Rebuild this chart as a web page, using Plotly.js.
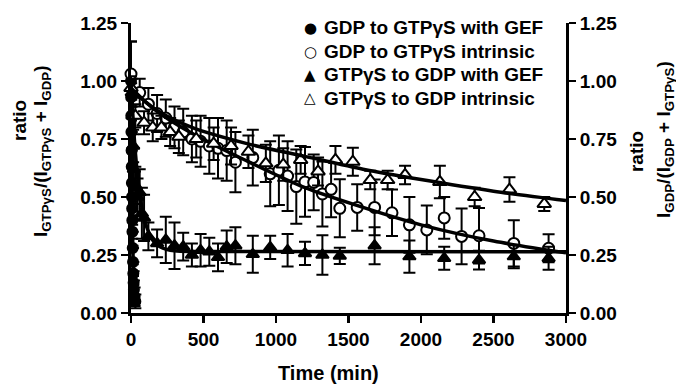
<!DOCTYPE html>
<html>
<head>
<meta charset="utf-8">
<script src="https://cdn.plot.ly/plotly-3.0.1.min.js"></script>
<style>html,body{margin:0;padding:0;background:#fff;}#chart{width:676px;height:385px;}</style>
</head>
<body>
<div id="chart"></div>
<script>
// Filled circles: GDP to GTPγS with GEF
const gefGtpT   = [0, 1, 2, 3, 4, 5, 6, 7, 8, 9, 10, 12, 14, 16, 18, 20, 25, 30];
const gefGtpV   = [1.0, 0.93, 0.85, 0.78, 0.70, 0.63, 0.56, 0.50, 0.45, 0.40, 0.35, 0.28, 0.22, 0.17, 0.13, 0.10, 0.07, 0.05];
const gefGtpErr = [0.17, 0.06, 0.07, 0.06, 0.08, 0.07, 0.08, 0.06, 0.07, 0.08, 0.06, 0.07, 0.06, 0.05, 0.05, 0.04, 0.04, 0.03];

// Open circles: GDP to GTPγS intrinsic
const intGtpT   = [0, 60, 120, 180, 240, 300, 360, 420, 480, 540, 600, 660, 720, 840, 960, 1020, 1080, 1140, 1200, 1260, 1320, 1380, 1440, 1560, 1680, 1800, 1920, 2040, 2160, 2280, 2400, 2640, 2880];
const intGtpV   = [1.03, 0.95, 0.90, 0.86, 0.84, 0.80, 0.78, 0.75, 0.74, 0.72, 0.71, 0.70, 0.65, 0.67, 0.60, 0.615, 0.59, 0.545, 0.565, 0.563, 0.513, 0.533, 0.451, 0.455, 0.455, 0.432, 0.38, 0.358, 0.41, 0.33, 0.333, 0.30, 0.279];
const intGtpErr = [0.14, 0.06, 0.07, 0.08, 0.08, 0.09, 0.10, 0.10, 0.11, 0.12, 0.13, 0.13, 0.13, 0.12, 0.14, 0.15, 0.15, 0.16, 0.15, 0.12, 0.14, 0.12, 0.125, 0.10, 0.12, 0.10, 0.12, 0.105, 0.09, 0.12, 0.12, 0.10, 0.06];

// Filled triangles: GTPγS to GDP with GEF
const gefGdpT   = [5, 10, 15, 20, 30, 45, 60, 75, 90, 120, 180, 240, 300, 360, 420, 480, 540, 600, 660, 720, 840, 960, 1080, 1200, 1320, 1440, 1680, 1920, 2160, 2400, 2640, 2880];
const gefGdpV   = [0.95, 0.85, 0.72, 0.62, 0.55, 0.50, 0.52, 0.43, 0.41, 0.33, 0.30, 0.315, 0.29, 0.286, 0.25, 0.27, 0.264, 0.24, 0.286, 0.29, 0.253, 0.283, 0.27, 0.257, 0.25, 0.246, 0.29, 0.243, 0.236, 0.228, 0.243, 0.236];
const gefGdpErr = [0.06, 0.08, 0.07, 0.09, 0.08, 0.08, 0.10, 0.11, 0.10, 0.06, 0.06, 0.10, 0.10, 0.06, 0.05, 0.07, 0.06, 0.06, 0.07, 0.08, 0.08, 0.05, 0.07, 0.05, 0.085, 0.035, 0.08, 0.07, 0.05, 0.04, 0.05, 0.05];

// Open triangles: GTPγS to GDP intrinsic
const intGdpT   = [0, 30, 90, 150, 210, 270, 330, 450, 570, 690, 810, 930, 1050, 1170, 1290, 1410, 1530, 1650, 1770, 1890, 2130, 2370, 2610, 2850];
const intGdpV   = [0.97, 0.85, 0.82, 0.80, 0.80, 0.78, 0.76, 0.75, 0.73, 0.72, 0.695, 0.645, 0.64, 0.66, 0.61, 0.66, 0.652, 0.573, 0.573, 0.595, 0.565, 0.50, 0.532, 0.47];
const intGdpErr = [0.05, 0.05, 0.05, 0.06, 0.05, 0.06, 0.07, 0.08, 0.07, 0.08, 0.07, 0.08, 0.07, 0.06, 0.06, 0.06, 0.06, 0.04, 0.04, 0.04, 0.07, 0.04, 0.053, 0.03];

// Fitted curves
const fitGefGtpT = [0, 2, 4, 6, 8, 10, 14, 20, 30, 40];
const fitGefGtpV = [1.0, 0.85, 0.70, 0.57, 0.46, 0.37, 0.25, 0.14, 0.06, 0.03];
const fitIntGtpT = [0, 100, 200, 420, 800, 1200, 1600, 2000, 2500, 3000];
const fitIntGtpV = [0.97, 0.91, 0.86, 0.775, 0.655, 0.54, 0.455, 0.38, 0.31, 0.26];
const fitGefGdpT = [0, 25, 50, 75, 100, 150, 200, 250, 300, 400, 3000];
const fitGefGdpV = [1.0, 0.734, 0.564, 0.455, 0.386, 0.314, 0.285, 0.273, 0.268, 0.265, 0.264];
const fitIntGdpT = [0, 100, 200, 420, 800, 1200, 1600, 2000, 2500, 3000];
const fitIntGdpV = [0.97, 0.91, 0.865, 0.80, 0.73, 0.675, 0.62, 0.575, 0.525, 0.485];

const legendNames   = ['GDP to GTPγS with GEF', 'GDP to GTPγS intrinsic', 'GTPγS to GDP with GEF', 'GTPγS to GDP intrinsic'];
const legendSymbols = ['●', '○', '▲', '△'];
const xTicks = [0, 500, 1000, 1500, 2000, 2500, 3000];
const yTicks = [0, 0.25, 0.5, 0.75, 1.0, 1.25];

const FONT = 'Liberation Sans, Arial, sans-serif';
function err(a) { return {type: 'data', array: a, visible: true, color: '#000', thickness: 2, width: 6}; }
function pts(x, y, e, name, symbol, filled, size, yaxis) {
  return {x: x, y: y, error_y: err(e), mode: 'markers', type: 'scatter', name: name, cliponaxis: false, yaxis: yaxis,
    showlegend: false,
    marker: {symbol: symbol, size: size, color: filled ? '#000' : '#fff', line: {color: '#000', width: 2}}};
}
function fit(x, y, yaxis) {
  return {x: x, y: y, mode: 'lines', type: 'scatter', showlegend: false, hoverinfo: 'skip', cliponaxis: false, yaxis: yaxis,
    line: {color: '#000', width: 3.5, shape: 'spline', smoothing: 0.8}};
}
const traces = [
  pts(gefGtpT, gefGtpV, gefGtpErr, legendNames[0], 'circle', true, 10, 'y'),
  pts(intGtpT, intGtpV, intGtpErr, legendNames[1], 'circle', false, 11, 'y'),
  pts(gefGdpT, gefGdpV, gefGdpErr, legendNames[2], 'triangle-up', true, 11, 'y2'),
  pts(intGdpT, intGdpV, intGdpErr, legendNames[3], 'triangle-up', false, 12, 'y2'),
  fit(fitGefGtpT, fitGefGtpV, 'y'),
  fit(fitIntGtpT, fitIntGtpV, 'y'),
  fit(fitGefGdpT, fitGefGdpV, 'y2'),
  fit(fitIntGdpT, fitIntGdpV, 'y2')
];
const tickFont = {family: FONT, size: 19, color: '#000', weight: 'bold'};
const axisCommon = {showgrid: false, zeroline: false, showline: true, linecolor: '#000', linewidth: 3,
  ticks: 'outside', ticklen: 7, tickwidth: 2.5, tickcolor: '#000', tickfont: tickFont};

const titleFont = {family: FONT, size: 19, color: '#000', weight: 'bold'};
const annotations = [
  {text: 'ratio', xref: 'paper', yref: 'paper', x: -0.2575, y: 0.6655, textangle: -90, showarrow: false,
    xanchor: 'center', yanchor: 'middle', font: titleFont},
  {text: 'I<sub>GTPγS</sub>/(I<sub>GTPγS</sub> + I<sub>GDP</sub>)', xref: 'paper', yref: 'paper', x: -0.2046, y: 0.5586, textangle: -90, showarrow: false,
    xanchor: 'center', yanchor: 'middle', font: titleFont},
  {text: 'ratio', xref: 'paper', yref: 'paper', x: 1.161, y: 0.555, textangle: -90, showarrow: false,
    xanchor: 'center', yanchor: 'middle', font: titleFont},
  {text: 'I<sub>GDP</sub>/(I<sub>GDP</sub> + I<sub>GTPγS</sub>)', xref: 'paper', yref: 'paper', x: 1.2276, y: 0.5966, textangle: -90, showarrow: false,
    xanchor: 'center', yanchor: 'middle', font: titleFont},
  {text: 'Time (min)', xref: 'paper', yref: 'paper', x: 0.455, y: -0.207, showarrow: false,
    xanchor: 'center', yanchor: 'middle', font: {family: FONT, size: 20, color: '#000', weight: 'bold'}}
];
const legendRowsY = [0.9828, 0.9017, 0.8207, 0.7397];
legendNames.forEach(function (n, i) {
  annotations.push({text: legendSymbols[i], xref: 'paper', yref: 'paper', x: 0.4115, y: legendRowsY[i], showarrow: false,
    xanchor: 'center', yanchor: 'middle', font: {family: 'DejaVu Sans, sans-serif', size: 15, color: '#000'}});
  annotations.push({text: n, xref: 'paper', yref: 'paper', x: 0.4391, y: legendRowsY[i], showarrow: false,
    xanchor: 'left', yanchor: 'middle', font: titleFont});
});

const layout = {
  width: 676, height: 385,
  margin: {l: 131, r: 110, t: 23, b: 72},
  paper_bgcolor: '#fff', plot_bgcolor: '#fff',
  showlegend: false,
  xaxis: Object.assign({}, axisCommon, {range: [0, 3000], tickvals: xTicks, ticktext: xTicks.map(String)}),
  yaxis: Object.assign({}, axisCommon, {range: [0, 1.25], tickvals: yTicks, tickformat: '.2f'}),
  yaxis2: Object.assign({}, axisCommon, {range: [0, 1.25], tickvals: yTicks, tickformat: '.2f', overlaying: 'y', side: 'right'}),
  annotations: annotations
};
Plotly.newPlot('chart', traces, layout, {displayModeBar: false, staticPlot: true});
</script>
</body>
</html>
